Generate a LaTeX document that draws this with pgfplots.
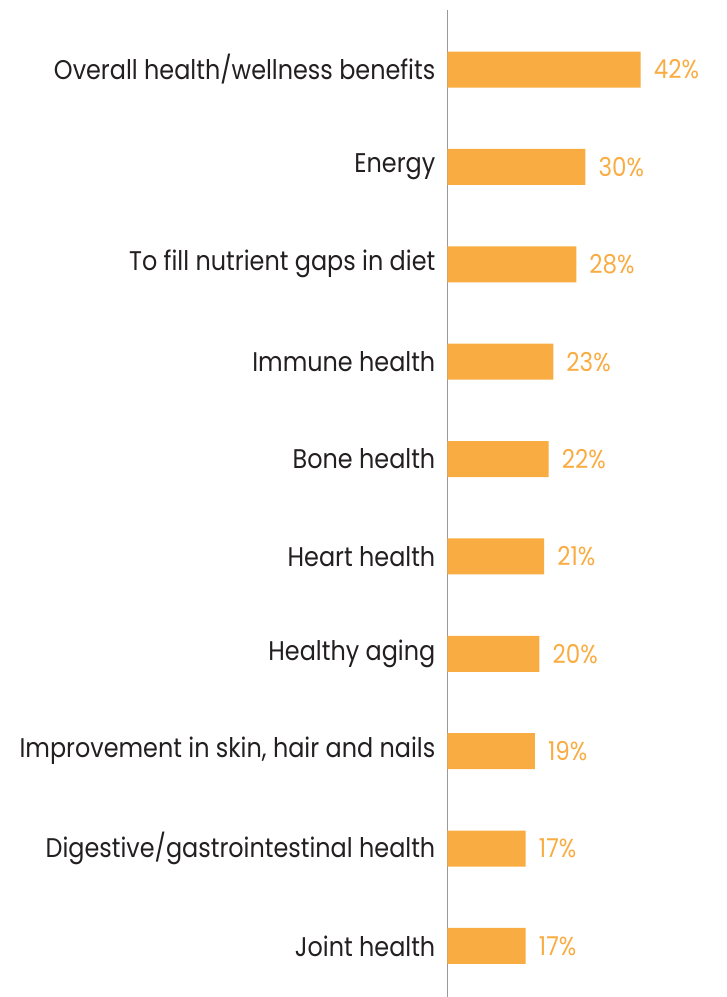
\documentclass[border=0pt]{standalone}
\usepackage{fontspec}
\setmainfont{Poppins}[FakeStretch=0.885]
\usepackage{pgfplots}
\pgfplotsset{compat=1.18}
\definecolor{barc}{HTML}{F9AC42}
\definecolor{txt}{HTML}{231F20}
\begin{document}
\begin{tikzpicture}
\useasboundingbox (-447.5pt,0pt) rectangle (279.5pt,997pt);
\begin{axis}[
  at={(0pt,0pt)}, anchor=south west,
  scale only axis, width=230pt, height=987pt,
  xbar, xmin=0, xmax=50, ymin=-0.524, ymax=9.611,
  bar width=36pt,
  axis x line=none,
  axis y line*=left,
  y axis line style={-, draw=gray!80, line width=1.5pt},
  ytick={0,...,9},
  yticklabels={Joint health, Digestive/gastrointestinal health, {Improvement in skin, hair and nails}, Healthy aging, Heart health, Bone health, Immune health, To fill nutrient gaps in diet, Energy, Overall health/wellness benefits},
  major tick length=0pt,
  ytick style={draw=none},
  yticklabel style={font=\fontsize{27}{30}\selectfont, text=txt, anchor=east, inner sep=0pt, xshift=-12pt},
  point meta=x,
  /pgf/number format/assume math mode=true,
  nodes near coords={\pgfmathprintnumber\pgfplotspointmeta\%},
  every node near coord/.append style={font=\fontsize{26}{30}\selectfont, text=barc, anchor=west, inner sep=0pt, xshift=13pt},
  clip=false,
]
\addplot[fill=barc, draw=none] coordinates {
(17,0) (17,1) (19,2) (20,3) (21,4) (22,5) (23,6) (28,7) (30,8) (42,9)
};
\end{axis}
\end{tikzpicture}
\end{document}
